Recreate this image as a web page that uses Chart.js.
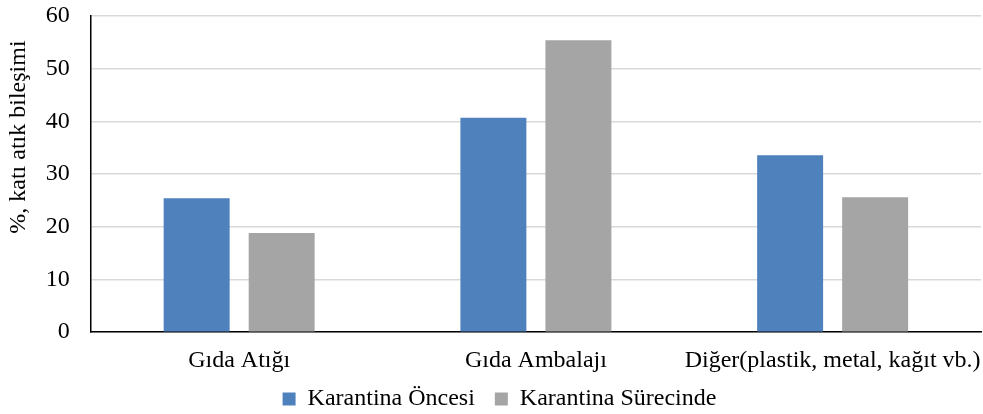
<!DOCTYPE html>
<html>
<head>
<meta charset="utf-8">
<script src="https://cdn.jsdelivr.net/npm/chart.js@4"></script>
<style>
html,body{margin:0;padding:0;background:#fff;}
#wrap{width:983px;height:414px;}
</style>
</head>
<body>
<div id="wrap"><canvas id="c" width="983" height="414"></canvas></div>
<script>
const categories = ["Gıda Atığı", "Gıda Ambalajı", "Diğer(plastik, metal, kağıt vb.)"];
const seriesNames = ["Karantina Öncesi", "Karantina Sürecinde"];
const before = [25.4, 40.7, 33.6];
const during = [18.8, 55.4, 25.6];
const yTicks = [0, 10, 20, 30, 40, 50, 60];

const FONT = "'Liberation Serif', 'Times New Roman', serif";
Chart.defaults.font.family = FONT;
Chart.defaults.color = '#000';

// Tighten the legend vertically while keeping its horizontal item spacing
const legendTighten = {
  id: 'legendTighten',
  afterInit(chart) {
    const lg = chart.legend;
    if (!lg) return;
    const origFit = lg.fit;
    lg.fit = function () { origFit.call(this); this.height -= 29; };
    const origDraw = lg.draw;
    lg.draw = function () {
      const t = this.top, l = this.left, r = this.right;
      this.top = t - 22;
      this.left = l + 7;
      this.right = r + 7;
      origDraw.call(this);
      this.top = t; this.left = l; this.right = r;
    };
  },
  afterLayout(chart) {
    const y = chart.scales.y;
    if (!y || y._titleShifted) return;
    const orig = y.drawTitle;
    y.drawTitle = function () {
      const ctx = this.ctx;
      ctx.save();
      ctx.translate(0, -37);
      orig.apply(this, arguments);
      ctx.restore();
    };
    y._titleShifted = true;
  }
};

new Chart(document.getElementById('c'), {
  type: 'bar',
  data: {
    labels: categories,
    datasets: [
      { label: seriesNames[0], data: before, backgroundColor: '#4F81BD', categoryPercentage: 0.573, barPercentage: 0.776 },
      { label: seriesNames[1], data: during, backgroundColor: '#A5A5A5', categoryPercentage: 0.573, barPercentage: 0.776 }
    ]
  },
  plugins: [legendTighten],
  options: {
    responsive: false,
    animation: false,
    devicePixelRatio: 1,
    layout: { padding: { top: 16, right: 2, left: 4, bottom: 0 } },
    plugins: {
      tooltip: { enabled: false },
      legend: {
        position: 'bottom',
        labels: {
          font: { size: 24, family: FONT },
          color: '#000',
          boxWidth: 13,
          boxHeight: 13,
          padding: 20,
          useBorderRadius: false
        }
      }
    },
    scales: {
      x: {
        grid: { display: false, drawTicks: false },
        border: { display: true, color: '#000', width: 1.5 },
        ticks: { font: { size: 24, family: FONT }, color: '#000', padding: 14, maxRotation: 0, autoSkip: false },
        afterFit: (s) => { s.paddingLeft = 0; s.paddingRight = 0; }
      },
      y: {
        min: 0, max: 60,
        afterBuildTicks: (axis) => { axis.ticks = yTicks.map(v => ({ value: v })); },
        grid: { color: '#D9D9D9', lineWidth: 1.5, drawTicks: true, tickLength: 17, tickColor: 'rgba(0,0,0,0)' },
        border: { display: true, color: '#000', width: 1.5 },
        ticks: { font: { size: 24, family: FONT }, color: '#000', padding: 4 },
        title: { display: true, text: '%, katı atık bileşimi', font: { size: 24, family: FONT }, color: '#000', padding: { top: 0, bottom: 9 } },
        afterFit: (s) => { s.paddingTop = 0; s.paddingBottom = 0; }
      }
    }
  }
});
</script>
</body>
</html>
